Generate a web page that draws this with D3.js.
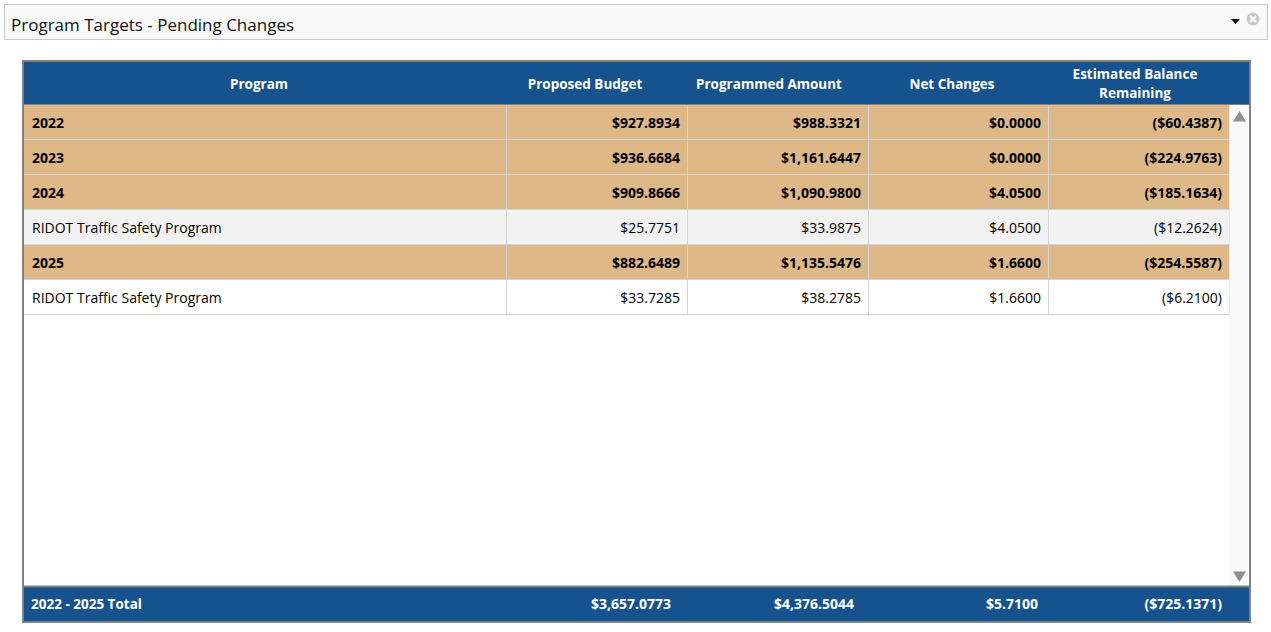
<!DOCTYPE html>
<html>
<head>
<meta charset="utf-8">
<script src="https://cdn.jsdelivr.net/npm/d3@7"></script>
<style>
  body { margin: 0; background: #ffffff; }
  svg { display: block; font-family: "Open Sans", "Noto Sans", sans-serif; }
</style>
</head>
<body>
<div id="chart"></div>
<script>
// table values
var programs = ["2022", "2023", "2024", "RIDOT Traffic Safety Program", "2025", "RIDOT Traffic Safety Program"];
var rowTypes = ["year", "year", "year", "item", "year", "item"];
var proposedBudget = [927.8934, 936.6684, 909.8666, 25.7751, 882.6489, 33.7285];
var programmedAmount = [988.3321, 1161.6447, 1090.98, 33.9875, 1135.5476, 38.2785];
var netChanges = [0, 0, 4.05, 4.05, 1.66, 1.66];
var balanceRemaining = [-60.4387, -224.9763, -185.1634, -12.2624, -254.5587, -6.21];
var totalLabel = "2022 - 2025 Total";
var totals = [3657.0773, 4376.5044, 5.71, -725.1371];
var headers = [["Program"], ["Proposed Budget"], ["Programmed Amount"], ["Net Changes"], ["Estimated Balance", "Remaining"]];

var width = 1271, height = 632;

var svg = d3.select("#chart").append("svg")
    .attr("width", width)
    .attr("height", height);

var money = d3.format("$,.4f");
function fmt(v) {
    return v < 0 ? "(" + money(-v) + ")" : money(v);
}

// title bar
svg.append("rect")
    .attr("x", 4.5).attr("y", 4.5)
    .attr("width", 1263).attr("height", 35)
    .attr("fill", "#f9f9f9")
    .attr("stroke", "#c8c8c8");

svg.append("text")
    .attr("x", 11).attr("y", 30.5)
    .text("Program Targets - Pending Changes")
    .style("font-size", "17px")
    .style("fill", "#111");

// dropdown caret + close icon
svg.append("path")
    .attr("d", "M1231,19 L1240,19 L1235.5,24 Z")
    .attr("fill", "#111");
svg.append("circle")
    .attr("cx", 1253).attr("cy", 19).attr("r", 6.5)
    .attr("fill", "#c8c8c8");
svg.append("path")
    .attr("d", "M1250,16 L1256,22 M1256,16 L1250,22")
    .attr("stroke", "#fff").attr("stroke-width", 1.8);

// table frame
var tLeft = 24, tRight = 1249, tTop = 62, tBottom = 621;
var colEdges = [24, 506, 687, 868, 1048, 1229];
var headerCenters = [259, 585, 769, 952, 1135];
var footerRight = [671, 854, 1038, 1222];

var y = d3.scaleBand()
    .domain(d3.range(programs.length))
    .range([105, 105 + 35 * programs.length])
    .paddingInner(0);

svg.append("rect")
    .attr("x", tLeft - 1).attr("y", tTop - 1)
    .attr("width", tRight - tLeft + 2).attr("height", tBottom - tTop + 2)
    .attr("fill", "#fff")
    .attr("stroke", "#808080")
    .attr("stroke-width", 2);

// header
svg.append("rect")
    .attr("x", tLeft).attr("y", tTop)
    .attr("width", tRight - tLeft).attr("height", 42)
    .attr("fill", "#16538e");

headers.forEach(function (lines, i) {
    var t = svg.append("text")
        .attr("text-anchor", "middle")
        .style("font-size", "13.5px")
        .style("font-weight", "bold")
        .style("fill", "#fff");
    var y0 = lines.length === 1 ? 89 : 79;
    lines.forEach(function (l, j) {
        t.append("tspan")
            .attr("x", headerCenters[i])
            .attr("y", y0 + j * 19)
            .text(l);
    });
});

svg.append("line")
    .attr("x1", tLeft).attr("x2", tRight)
    .attr("y1", 104.5).attr("y2", 104.5)
    .attr("stroke", "#808080");

// body rows
var rows = svg.selectAll("g.row")
    .data(programs.map(function (p, i) {
        return {
            program: p,
            type: rowTypes[i],
            values: [proposedBudget[i], programmedAmount[i], netChanges[i], balanceRemaining[i]],
            i: i
        };
    }))
    .enter().append("g")
    .attr("class", "row")
    .attr("transform", function (d) { return "translate(0," + y(d.i) + ")"; });

rows.append("rect")
    .attr("x", tLeft).attr("y", 0)
    .attr("width", colEdges[5] - tLeft).attr("height", y.bandwidth())
    .attr("fill", function (d) {
        if (d.type === "year") return "#deb887";
        return d.i === 3 ? "#f2f2f2" : "#ffffff";
    });

rows.append("line")
    .attr("x1", tLeft).attr("x2", colEdges[5])
    .attr("y1", y.bandwidth() - 0.5).attr("y2", y.bandwidth() - 0.5)
    .attr("stroke", "#d4d4d4");

rows.selectAll("line.sep")
    .data(colEdges.slice(1))
    .enter().append("line")
    .attr("class", "sep")
    .attr("x1", function (d) { return d + 0.5; })
    .attr("x2", function (d) { return d + 0.5; })
    .attr("y1", 0).attr("y2", y.bandwidth())
    .attr("stroke", "#d4d4d4");

rows.append("text")
    .attr("x", 32)
    .attr("y", 22.5)
    .text(function (d) { return d.program; })
    .style("font-size", "14px")
    .style("font-weight", function (d) { return d.type === "year" ? "bold" : "normal"; })
    .style("fill", "#000");

rows.each(function (d) {
    d3.select(this).selectAll("text.val")
        .data(d.values)
        .enter().append("text")
        .attr("class", "val")
        .attr("x", function (v, k) { return colEdges[k + 2] - 7; })
        .attr("y", 22.5)
        .attr("text-anchor", "end")
        .text(function (v) { return fmt(v); })
        .style("font-size", "14px")
        .style("font-weight", d.type === "year" ? "bold" : "normal")
        .style("fill", "#000");
});

// scrollbar
svg.append("rect")
    .attr("x", 1229.5).attr("y", 105)
    .attr("width", 19).attr("height", 481)
    .attr("fill", "#fafafa");
svg.append("path")
    .attr("d", "M1233,121.5 L1246,121.5 L1239.5,111 Z")
    .attr("fill", "#8f8f8f");
svg.append("path")
    .attr("d", "M1233,571.5 L1246,571.5 L1239.5,582 Z")
    .attr("fill", "#8f8f8f");

// footer
svg.append("rect")
    .attr("x", tLeft).attr("y", 587)
    .attr("width", tRight - tLeft).attr("height", tBottom - 587)
    .attr("fill", "#16538e");
svg.append("line")
    .attr("x1", tLeft).attr("x2", tRight)
    .attr("y1", 586.5).attr("y2", 586.5)
    .attr("stroke", "#808080")
    .attr("stroke-width", 2);

svg.append("text")
    .attr("x", 31).attr("y", 609)
    .text(totalLabel)
    .style("font-size", "13.5px")
    .style("font-weight", "bold")
    .style("fill", "#fff");

svg.selectAll("text.total")
    .data(totals)
    .enter().append("text")
    .attr("class", "total")
    .attr("x", function (v, k) { return footerRight[k]; })
    .attr("y", 609)
    .attr("text-anchor", "end")
    .text(function (v) { return fmt(v); })
    .style("font-size", "14px")
    .style("font-weight", "bold")
    .style("fill", "#fff");
</script>
</body>
</html>
